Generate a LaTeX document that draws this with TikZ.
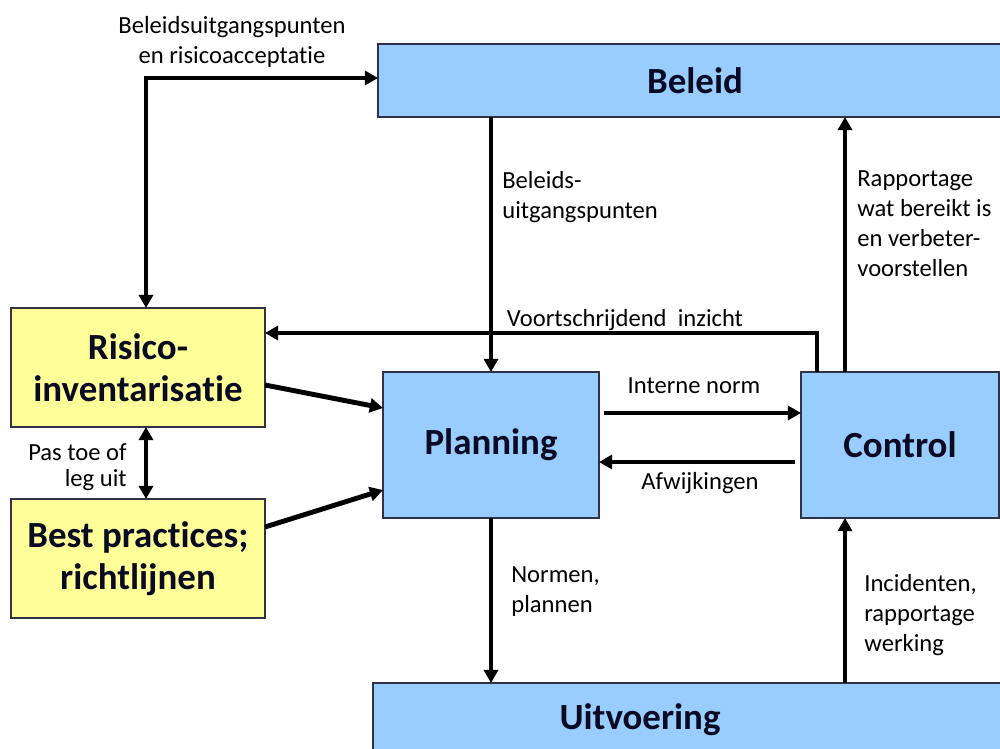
\documentclass[tikz,border=0pt]{standalone}
\usepackage{fontspec}
\setmainfont{Carlito}[Ligatures=CommonOff]
\usetikzlibrary{arrows.meta,calc}
\definecolor{boxblue}{RGB}{153,204,255}
\definecolor{boxyellow}{RGB}{255,255,153}
\definecolor{edgecol}{RGB}{50,50,70}
\definecolor{textcol}{RGB}{10,10,35}
\tikzset{
  box/.style={draw=edgecol, line width=0.8pt, inner sep=0pt, outer sep=0pt,
    font=\fontsize{21}{24}\selectfont\bfseries, text=textcol, align=center},
  bluebox/.style={box, fill=boxblue},
  yelbox/.style={box, fill=boxyellow},
  arr/.style={line width=2.8pt, -{Triangle[length=7.5pt,width=8pt]}},
  dblarr/.style={line width=2.8pt, {Triangle[length=7.5pt,width=8pt]}-{Triangle[length=7.5pt,width=8pt]}},
  lbl/.style={font=\fontsize{14}{17}\selectfont, inner sep=0pt, text=black},
}
\begin{document}
\begin{tikzpicture}[x=0.02cm,y=-0.02cm]
\useasboundingbox (0,0) rectangle (1000,749);
\clip (0,0) rectangle (1000,749);
% boxes
\node[bluebox, minimum width=12.68cm, minimum height=1.46cm] (beleid) at (695,80.5) {Beleid};
\node[yelbox, minimum width=5.08cm, minimum height=2.38cm] (risico) at (138,367.5) {Risico-\\inventarisatie};
\node[yelbox, minimum width=5.08cm, minimum height=2.38cm] (best) at (138,558.5) {Best practices;\\richtlijnen};
\node[bluebox, minimum width=4.32cm, minimum height=2.92cm] (planning) at (491,445) {Planning};
\node[bluebox, minimum width=3.96cm, minimum height=2.92cm] (control) at (900,445) {Control};
\node[bluebox, minimum width=12.78cm, minimum height=1.54cm] (uitv) at (692.5,721.5) {};
\node[box, draw=none, fill=none] (uitvtext) at (640,720) {Uitvoering};
% helper coordinates
\coordinate (c1) at (146,78);
\coordinate (cb) at (845,0);
\coordinate (v) at (817,333);
% connectors
\draw[dblarr] (beleid.west |- c1) -- (c1) -- (c1 |- risico.north);
\draw[dblarr] (c1 |- risico.south) -- (c1 |- best.north);
\draw[arr] (beleid.south -| planning.north) -- (planning.north);
\draw[arr] (control.north -| cb) -- (beleid.south -| cb);
\draw[arr] (control.north -| v) -- (v) -- (risico.east |- v);
\draw[arr] ($(risico.east)+(0,17.5)$) -- ($(planning.west)+(0,-37)$);
\draw[arr] ($(best.east)+(0,-31.5)$) -- ($(planning.west)+(0,45)$);
\draw[arr] ($(planning.east)+(5,-32)$) -- ($(control.west)+(0,-32)$);
\draw[arr] ($(control.west)+(-6,17)$) -- ($(planning.east)+(0,17)$);
\draw[arr] (planning.south) -- (planning.south |- uitv.north);
\draw[arr] (uitv.north -| cb) -- (control.south -| cb);
% labels
\node[lbl, align=center] (l1) at (232,42) {Beleidsuitgangspunten\\en risicoacceptatie};
\node[lbl, align=left, anchor=west] (l2) at (502,197) {Beleids-\\uitgangspunten};
\node[lbl, align=left, anchor=west] (l3) at (857,224) {Rapportage\\wat bereikt is\\en verbeter-\\voorstellen};
\node[lbl] (l4) at (625,320) {Voortschrijdend\ \ inzicht};
\node[lbl] (l5) at (694,386) {Interne norm};
\node[lbl] (l6) at (700,483) {Afwijkingen};
\node[lbl, align=right, anchor=east, font=\fontsize{14}{14.5}\selectfont] (l7) at (127,467) {Pas toe of\\leg uit};
\node[lbl, align=left, anchor=west] (l8) at (511,592) {Normen,\\plannen};
\node[lbl, align=left, anchor=west] (l9) at (864,615) {Incidenten,\\rapportage\\werking};
\end{tikzpicture}
\end{document}
